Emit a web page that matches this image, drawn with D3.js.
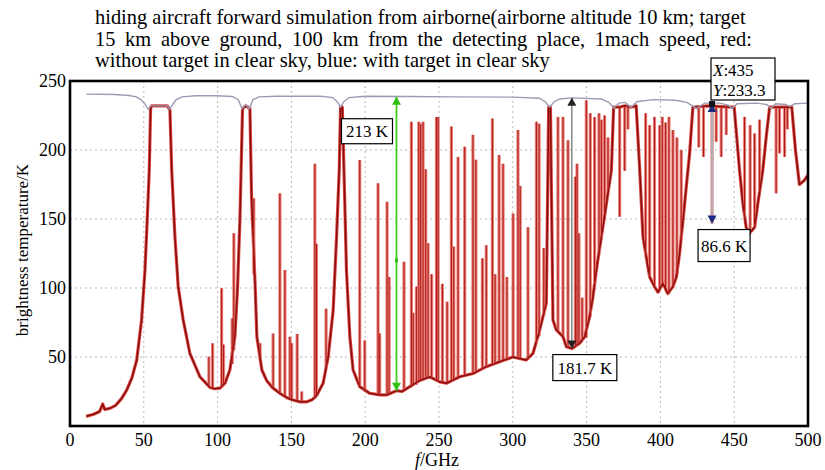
<!DOCTYPE html>
<html><head><meta charset="utf-8">
<script src="https://cdn.jsdelivr.net/npm/d3@7/dist/d3.min.js"></script>
<style>
body{margin:0;background:#fff;}
svg text{font-family:"Liberation Serif","Times New Roman",serif;fill:#000;}
</style></head><body>
<svg id="chart" width="825" height="470"></svg>
<script>
// ---------- data ----------
const titleLines = [
  "hiding aircraft forward simulation from airborne(airborne altitude 10 km; target",
  "15 km above ground, 100 km from the detecting place, 1mach speed, red:",
  "without target in clear sky, blue: with target in clear sky"
];
const xTicks = [0,50,100,150,200,250,300,350,400,450,500];
const yTicks = [50,100,150,200,250];
const xLabelItalic = "f";
const xLabelRest = "/GHz";
const yLabel = "brightness temperature/K";

// upper (clear sky envelope) curve: [GHz, K]
const topCurve = [
  [11,240.5],[30,240.2],[40,239.5],[45,238.5],[48,236.5],[51,233],[53,229.5],[54.5,232],[66,232],
  [67.5,229.5],[69.5,233],[72,236.5],[76,238.5],[85,239.3],[100,239.3],[110,238.8],[114,236.5],
  [116.5,230],[119,233],[121.5,230],[124,236.5],[128,238.5],[140,239],[170,239],[178,238],[181,235],
  [183.3,231],[185.5,235],[189,238],[200,239],[230,238.8],[260,238.5],[300,238.3],[318,237.5],
  [322,235],[325,231],[328,235],[332,237],[340,237.8],[360,237],[365,234.5],[368.5,230.5],[372,234],
  [376,234.5],[380.2,231],[384,235],[395,236.5],[410,236],[418,234.5],[424.5,230],[430,234],
  [440,234],[446,232.5],[448.5,230],[452,233.5],[465,234],[472,233],[475,230],[478,233.5],
  [485,233],[487.5,231.5],[491,233.5],[500,234]
];

// red (without target) continuum: [GHz, K]
const baseCurve = [
  [11,7],[16,8.5],[20,10.5],[22.2,16],[23.5,12],[27,12.8],[31,15],[35,20],[38.4,26],[42,35],
  [45.2,47.8],[48.5,76.8],[50.8,113],[52.3,149],[53.7,185.5],[54.6,230],[55.3,232],[65.9,232],
  [67.7,229],[68.9,185.5],[71.1,137],[73.3,101],[76.7,76.8],[81.2,52.7],[88,35.7],[94.8,28],
  [98,27],[101.6,27.5],[105,31],[108.3,40.6],[111.7,64.7],[113.5,100],[115.1,149],[116.9,230],
  [119.2,232],[121.9,230],[123,166],[124.1,137],[125.5,100],[126.6,64.7],[130,40.6],[133.2,33],
  [137,28],[142.2,23.7],[147,20.5],[151.2,18.8],[156,17.5],[160.3,17.5],[164,19],[167,22],
  [171.5,31],[174.9,50],[178.3,84],[180.6,137],[182.4,185.5],[183.3,231],[184.5,231],[186.2,161],
  [187.3,113],[189.6,64.7],[191.8,40.6],[196.3,28.5],[203.1,23.7],[210,22.5],[214.4,22.5],
  [221.2,25.6],[225,25],[230.2,28.5],[237,33],[243.7,35.7],[250.5,32],[255,31],[264,35.7],
  [273,38],[282,43],[291,46.6],[300,50],[309,47.8],[313.7,52.7],[318.2,69.6],[322.7,89],
  [324.3,231],[325.5,231],[327.2,76.8],[329.5,69.6],[334,64.7],[336.3,57.5],[340,56.1],
  [345.3,60],[348.7,64.7],[352,79],[354.3,93.7],[356.6,113],[360,137],[363.4,161],[366.8,185.5],
  [368.3,231],[372,231],[376,232],[380,231],[383.6,232],[386,185.5],[388.2,137],[390.4,122.7],
  [392.7,108],[396,101],[398.3,97],[401.7,103.4],[405,96],[408.5,101],[410.8,108],[413,125],
  [415.3,149],[417.5,173],[419.8,197.6],[422,231],[432,232],[448,231],[450,231],[453.6,185.5],
  [455.9,161],[458.1,144],[460.4,139.6],[463.8,144],[466,161],[469.4,185.5],[471.7,209.6],
  [474,231],[489,231],[491.5,200],[494.2,175],[497.5,178],[500,182]
];

// narrow absorption lines on the red curve: [GHz, base K, tip K]
const spikes = [
  [94.1,28,50.2],[96.6,27,59.9],[102.7,28,99.8],[104,30,59],[109.9,45,78],[111,55,139.6],
  [124.5,110,165],[128.8,50,60],[137.6,28,67],[142.2,23.7,168.6],[145.6,22,113],[149,20,64.7],
  [150.2,20,60],[153.9,19,66.7],[157,18,25],[165.9,20,190],[167,22,132],[173.5,42,85],
  [196.3,28.5,192.8],[199.7,25,62],[208.7,23,175.9],[209.8,23,67],[214.8,22.5,162.5],
  [216.2,23,108],[226.3,26,119],[231.3,28,220.5],[232.5,29,82],[234.7,30,101],[236.3,32,220.5],
  [237.6,33,219],[239.2,34,220.5],[241,35,186],[242.6,35.7,132.4],[245,35,110],[248.3,33,224],
  [249.4,32.5,224],[252.3,32,103],[255.5,31,90],[258.4,32,217],[260,33,130],[262.9,35,195],
  [267.4,36,202.4],[273,38,211],[275,38.5,193],[279.4,41,121.5],[282,43,131],[286.2,44,222.9],
  [288,45,110],[290.7,46.6,196.4],[293.4,47.5,190],[296,48.5,108],[300.2,50,154],[303.5,49,214.5],
  [305,48.5,174],[310.3,48,144],[316,60,220.5],[317.8,65,219],[321,80,129],
  [330.6,69,224],[334,64.7,224],[337.4,57.5,207],[342.4,57,180.7],[343.5,58,190],[344.8,59,139.6],
  [347,62,93],[349.8,64,236],[352.5,79,226.6],[355.4,103,224],[358.4,125,226.6],[360,137,222],
  [362.2,153,225],[364.5,170,209],
  [372.4,231,151.7],[375.8,232,185],[378,232,215],
  [390,122.7,226.6],[392.7,108,218],[396,101,224],[399.5,99,218],[401.3,103,224],[403.5,100,220],
  [405.8,96,224],[408.5,101,214.5],[411.2,110,209],[414.1,135,200],
  [426,232,202],[429.2,232,195],[435,233.3,146.7],[437.8,232,206],[441.2,232,195],[444.6,232,211],
  [457,150,224],[460.8,140,218],[463.8,144,212],[467.2,170,222],
  [478.4,231,168.6],[480.7,231,197.6],[484.1,231,195],[486,231,215]
];

// difference markers: frequency, low K, high K, label
const markF = [221.2, 340, 435];
const markLo = [25.6, 56.1, 146.7];
const markHi = [238.6, 237.8, 233.3];
const markLabels = ["213 K", "181.7 K", "86.6 K"];
const cursorX = "435", cursorY = "233.3";

// ---------- layout ----------
const svg = d3.select("#chart");
const L = 70, R = 808, T = 81, B = 426;
const x = d3.scaleLinear().domain([0,500]).range([L,R]);
const y = d3.scaleLinear().domain([0,250]).range([B,T]);

// title with justified second line
const t1 = svg.append("text").attr("x",95).attr("y",24).text(titleLines[0]).style("font-size","18px");
const w1 = t1.node().getComputedTextLength();
const fs = 18*651/w1;
t1.style("font-size", fs+"px");
const t2 = svg.append("text").attr("x",95).attr("y",46).text(titleLines[1]).style("font-size", fs+"px");
const w2 = t2.node().getComputedTextLength();
const nsp = titleLines[1].split(" ").length-1;
t2.style("word-spacing", ((657-w2)/nsp)+"px");
svg.append("text").attr("x",95).attr("y",67).text(titleLines[2]).style("font-size", fs+"px");

// grid
const g = svg.append("g");
g.selectAll(".gx").data(xTicks.filter(d=>d>0&&d<500)).enter().append("line")
  .attr("x1",d=>x(d)).attr("x2",d=>x(d)).attr("y1",T).attr("y2",B)
  .attr("stroke","#b8b8b8").attr("stroke-width",1).attr("stroke-dasharray","2,3");
g.selectAll(".gy").data(yTicks.filter(d=>d<250)).enter().append("line")
  .attr("y1",d=>y(d)).attr("y2",d=>y(d)).attr("x1",L).attr("x2",R)
  .attr("stroke","#b8b8b8").attr("stroke-width",1).attr("stroke-dasharray","2,3");

const plot = svg.append("g");
const line = d3.line().x(d=>x(d[0])).y(d=>y(d[1]));

// red curve: light halo, then darker core
plot.append("path").datum(baseCurve).attr("d",line).attr("fill","none")
  .attr("stroke","#dc4a44").attr("stroke-width",3.2).attr("stroke-linejoin","round");
plot.selectAll(".sh").data(spikes).enter().append("line")
  .attr("x1",d=>x(d[0])).attr("x2",d=>x(d[0])).attr("y1",d=>y(d[1])).attr("y2",d=>y(d[2]))
  .attr("stroke","#e9827b").attr("stroke-width",3.2);
plot.append("path").datum(baseCurve).attr("d",line).attr("fill","none")
  .attr("stroke","#8a0d0d").attr("stroke-width",1.5).attr("stroke-linejoin","round");
plot.selectAll(".sc").data(spikes).enter().append("line")
  .attr("x1",d=>x(d[0])).attr("x2",d=>x(d[0])).attr("y1",d=>y(d[1])).attr("y2",d=>y(d[2]))
  .attr("stroke","#b01a16").attr("stroke-width",1.1);

// upper envelope
plot.append("path").datum(topCurve).attr("d",line).attr("fill","none")
  .attr("stroke","#9d9bb4").attr("stroke-width",1.4);

// difference arrows
const tri = (cx,cy,up,c)=>{
  const s=4.5;
  svg.append("path").attr("d", up
    ? `M${cx},${cy} L${cx-s},${cy+8} L${cx+s},${cy+8} Z`
    : `M${cx},${cy} L${cx-s},${cy-8} L${cx+s},${cy-8} Z`).attr("fill",c);
};
// green
svg.append("line").attr("x1",x(markF[0])).attr("x2",x(markF[0])).attr("y1",y(markLo[0])).attr("y2",y(markHi[0]))
  .attr("stroke","#3ccf1a").attr("stroke-width",1.8);
tri(x(markF[0]),y(markHi[0]),true,"#2fc010");
tri(x(markF[0]),y(markLo[0]),false,"#2fc010");
svg.append("rect").attr("x",x(markF[0])-1.5).attr("y",y(120)-2).attr("width",3).attr("height",4).attr("fill","#2fc010");
// gray
svg.append("line").attr("x1",x(markF[1])).attr("x2",x(markF[1])).attr("y1",y(markLo[1])).attr("y2",y(markHi[1]))
  .attr("stroke","#6a6a6a").attr("stroke-width",1.2);
tri(x(markF[1]),y(markHi[1]),true,"#222");
tri(x(markF[1]),y(markLo[1]),false,"#222");
// blue
svg.append("line").attr("x1",x(markF[2])).attr("x2",x(markF[2])).attr("y1",y(markLo[2])).attr("y2",y(markHi[2]))
  .attr("stroke","#b0b0b8").attr("stroke-width",2);
tri(x(markF[2]),y(markHi[2]),true,"#1c2a80");
tri(x(markF[2]),y(markLo[2]),false,"#1c2a80");
svg.append("rect").attr("x",x(markF[2])-3).attr("y",y(markHi[2])-3).attr("width",6).attr("height",6).attr("fill","#111");

// frame
svg.append("rect").attr("x",L).attr("y",T).attr("width",R-L).attr("height",B-T)
  .attr("fill","none").attr("stroke","#000").attr("stroke-width",2.6);

// tick labels
svg.selectAll(".xt").data(xTicks).enter().append("text")
  .attr("x",d=>x(d)).attr("y",446).attr("text-anchor","middle").style("font-size","18px").text(d=>d);
svg.selectAll(".yt").data(yTicks).enter().append("text")
  .attr("x",L-4).attr("y",d=>y(d)+6).attr("text-anchor","end").style("font-size","18px").text(d=>d);

// axis titles
const xl = svg.append("text").attr("x",437).attr("y",466).attr("text-anchor","middle").style("font-size","18px");
xl.append("tspan").style("font-style","italic").text(xLabelItalic);
xl.append("tspan").text(xLabelRest);
svg.append("text").attr("transform","translate(28,250) rotate(-90)").attr("text-anchor","middle")
  .style("font-size","17px").text(yLabel);

// label boxes
const box = (x0,y0,w,h,lines)=>{
  svg.append("rect").attr("x",x0).attr("y",y0).attr("width",w).attr("height",h)
    .attr("fill","#fff").attr("stroke","#000").attr("stroke-width",1.2);
  lines.forEach((ln,i)=>{
    svg.append("text").attr("x",x0+w/2).attr("y",y0+h/2+6).attr("text-anchor","middle")
      .style("font-size","17px").text(ln);
  });
};
box(x(markF[0])-55, y(markHi[0])+22, 51, 25, [markLabels[0]]);
box(x(markF[1])-19, y(markLo[1])+6, 64, 26, [markLabels[1]]);
box(x(markF[2])-14, y(markLo[2])+6, 52, 32, [markLabels[2]]);
// data-cursor box
svg.append("rect").attr("x",711).attr("y",58).attr("width",64).attr("height",42)
  .attr("fill","#fff").attr("stroke","#000").attr("stroke-width",1.2);
const c1 = svg.append("text").attr("x",713).attr("y",76).style("font-size","17px");
c1.append("tspan").style("font-style","italic").text("X");
c1.append("tspan").text(":"+cursorX);
const c2 = svg.append("text").attr("x",713).attr("y",96).style("font-size","17px");
c2.append("tspan").style("font-style","italic").text("Y");
c2.append("tspan").text(":"+cursorY);
</script>
</body></html>
